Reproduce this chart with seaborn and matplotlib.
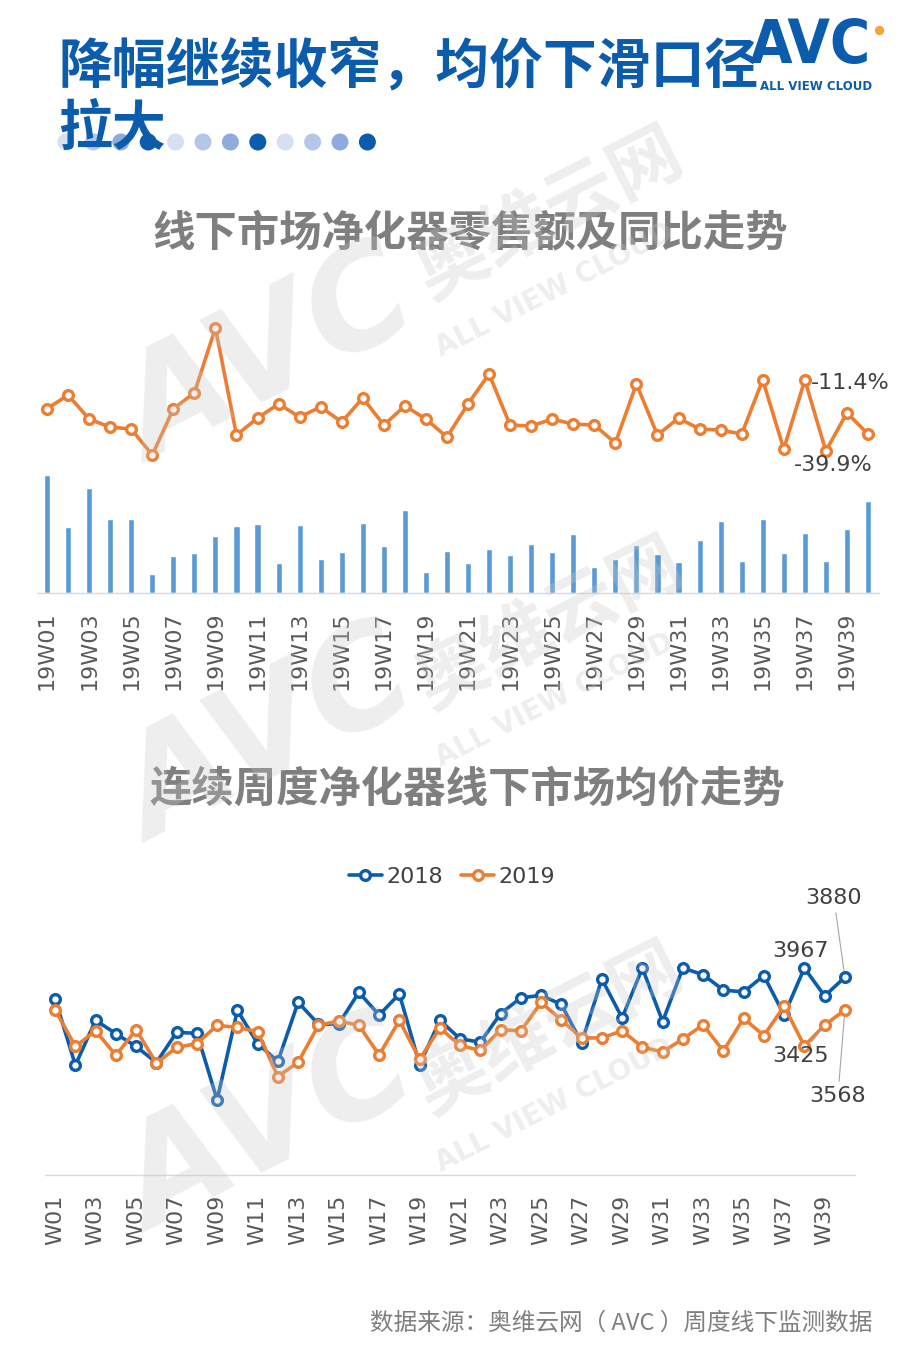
import numpy as np
import pandas as pd
import matplotlib
matplotlib.use("Agg")
import matplotlib.pyplot as plt
import seaborn as sns

# ---- data ----
weeks = ["19W%02d" % i for i in range(1, 41)]
weeks_short = ["W%02d" % i for i in range(1, 41)]

# weekly offline retail sales (relative units, no axis in the source)
sales_bar = [118, 66, 105, 74, 74, 19, 37, 40, 57, 67,
             69, 30, 68, 34, 41, 70, 47, 83, 21, 42,
             30, 44, 38, 49, 41, 59, 26, 34, 48, 39,
             31, 53, 72, 32, 74, 40, 60, 32, 64, 92]

# year-on-year change of sales, %
yoy_pct = [-23.0, -17.4, -27.1, -30.3, -31.1, -41.5, -23.0, -16.6, 9.5, -33.5,
           -26.7, -21.0, -26.3, -22.2, -28.3, -18.6, -29.5, -21.8, -27.1, -34.3,
           -21.0, -9.0, -29.5, -29.9, -27.1, -29.1, -29.5, -36.7, -13.0, -33.5,
           -26.7, -31.1, -31.5, -33.1, -11.4, -39.1, -11.4, -39.9, -24.6, -33.1]

# average price, yuan
price_2018 = [3674, 3044, 3471, 3343, 3222, 3069, 3356, 3347, 2714, 3565,
              3250, 3079, 3642, 3434, 3434, 3736, 3521, 3721, 3048, 3471,
              3294, 3263, 3534, 3684, 3708, 3621, 3256, 3861, 3493, 3967,
              3459, 3967, 3904, 3758, 3740, 3895, 3521, 3967, 3702, 3880]
price_2019 = [3571, 3222, 3371, 3138, 3381, 3063, 3212, 3250, 3422, 3403,
              3362, 2936, 3072, 3422, 3465, 3422, 3141, 3469, 3100, 3397,
              3231, 3184, 3381, 3371, 3640, 3474, 3303, 3303, 3371, 3216,
              3169, 3294, 3427, 3179, 3490, 3325, 3605, 3226, 3425, 3568]

yoy_labels = {36: "-11.4%", 37: "-39.9%"}

BLUE = "#0B5CAD"
ORANGE = "#ED7D31"
BAR = "#5B9BD5"
GREY_T = "#7F7F7F"
TXT = "#404040"

sns.set_theme(style="white")
plt.rcParams["font.family"] = ["Noto Sans CJK SC", "DejaVu Sans"]

W, H = 907, 1361
fig = plt.figure(figsize=(W / 100, H / 100), dpi=100)
fig.patch.set_facecolor("white")


def box(x0, y0, x1, y1):
    return [x0 / W, 1 - y1 / H, (x1 - x0) / W, (y1 - y0) / H]


def clean(ax, axis_line=True):
    for s in ["top", "right", "left"]:
        ax.spines[s].set_visible(False)
    ax.spines["bottom"].set_visible(axis_line)
    ax.spines["bottom"].set_color("#D9D9D9")
    ax.spines["bottom"].set_linewidth(1.0)
    ax.set_yticks([])
    ax.set_ylabel("")
    ax.set_xlabel("")
    ax.patch.set_alpha(0)


# ---- background layer: decorative dots ----
bg = fig.add_axes([0, 0, 1, 1])
bg.set_xlim(0, W)
bg.set_ylim(H, 0)
bg.axis("off")
dot_cols = ["#D6E0F2", "#B4C7E7", "#8FAADC", BLUE] * 3
bg.scatter(66 + 27.4 * np.arange(12), np.full(12, 142), s=150, c=dot_cols, linewidths=0)

# ---- header ----
fig.text(58 / W, 1 - 68 / H, "降幅继续收窄，均价下滑口径", fontsize=38.8, weight="bold",
         color=BLUE, va="center", ha="left")
fig.text(58 / W, 1 - 130 / H, "拉大", fontsize=38.8, weight="bold",
         color=BLUE, va="center", ha="left")
fig.text(810 / W, 1 - 47 / H, "AVC", fontsize=44, weight="bold", color=BLUE,
         family="DejaVu Sans", fontstretch="condensed", va="center", ha="center")
bg.scatter([879], [30], s=45, c="#F5A23A", linewidths=0)
fig.text(816 / W, 1 - 86 / H, "ALL VIEW CLOUD", fontsize=8.5, weight="bold",
         color=BLUE, family="DejaVu Sans", va="center", ha="center")

fig.text(470 / W, 1 - 233 / H, "线下市场净化器零售额及同比走势", fontsize=30.5,
         weight="bold", color=GREY_T, ha="center", va="center")
fig.text(467 / W, 1 - 790 / H, "连续周度净化器线下市场均价走势", fontsize=30.5,
         weight="bold", color=GREY_T, ha="center", va="center")
fig.text(872 / W, 1 - 1323 / H, "数据来源：奥维云网（ AVC ）周度线下监测数据",
         fontsize=17, color=GREY_T, ha="right", va="center")

# ---- chart 1: sales bars + yoy line ----
ax1 = fig.add_axes(box(36.5, 300, 878.5, 593))
sns.barplot(x=weeks, y=sales_bar, color=BAR, saturation=1, width=0.29, ax=ax1)
ax1.set_ylim(0, 293)
ax1.set_xlim(-0.5, 39.5)
clean(ax1)
ax1.set_xticks(range(0, 40, 2))
ax1.set_xticklabels(weeks[::2])
ax1.tick_params(axis="x", length=0, pad=13, labelsize=16, labelcolor="#595959",
                rotation=90)
for t in ax1.get_xticklabels():
    t.set_fontfamily("DejaVu Sans")

ax1b = fig.add_axes(box(36.5, 300, 878.5, 593))
sns.lineplot(x=np.arange(40), y=yoy_pct, ax=ax1b, color=ORANGE, lw=2.6,
             marker="o", ms=7, mfc="white", mec=ORANGE, mew=2.4)
ax1b.set_xlim(-0.5, 39.5)
ax1b.set_ylim(-96.9, 20.7)
clean(ax1b, axis_line=False)
ax1b.set_xticks([])
ax1b.annotate(yoy_labels[36], (36, yoy_pct[36]), xytext=(6, -3),
              textcoords="offset pixels", ha="left", va="center", fontsize=16,
              color=TXT, family="DejaVu Sans")
ax1b.annotate(yoy_labels[37], (37, yoy_pct[37]), xytext=(7, -14),
              textcoords="offset pixels", ha="center", va="center", fontsize=16,
              color=TXT, family="DejaVu Sans")

# ---- chart 2: weekly average price ----
ax2 = fig.add_axes(box(45, 912, 855, 1175))
idx = np.arange(40)
sns.lineplot(x=idx, y=price_2018, ax=ax2, color=BLUE, lw=2.6, label="2018",
             marker="o", ms=7, mfc="white", mec=BLUE, mew=2.4)
sns.lineplot(x=idx, y=price_2019, ax=ax2, color=ORANGE, lw=2.6, label="2019",
             marker="o", ms=7, mfc="white", mec=ORANGE, mew=2.4)
ax2.set_xlim(-0.5, 39.5)
ax2.set_ylim(2000, 4500)
clean(ax2)
ax2.set_xticks(range(0, 40, 2))
ax2.set_xticklabels(weeks_short[::2])
ax2.tick_params(axis="x", length=0, pad=14, labelsize=16, labelcolor="#595959",
                rotation=90)
for t in ax2.get_xticklabels():
    t.set_fontfamily("DejaVu Sans")

leg = ax2.legend(loc="center", bbox_to_anchor=(452 / W, 1 - 877 / H),
                 bbox_transform=fig.transFigure, ncol=2, frameon=False,
                 fontsize=16, handlelength=1.5, handletextpad=0.2,
                 columnspacing=0.8)
for t in leg.get_texts():
    t.set_color(TXT)
    t.set_fontfamily("DejaVu Sans")

lead = dict(arrowstyle="-", color="#A6A6A6", lw=0.8, shrinkA=1, shrinkB=5)
ax2.annotate(str(price_2018[39]), (39, price_2018[39]), xytext=(-11, 79),
             textcoords="offset pixels", ha="center", va="center", fontsize=16,
             color=TXT, family="DejaVu Sans", arrowprops=lead)
ax2.annotate(str(price_2018[37]), (37, price_2018[37]), xytext=(-4, 17),
             textcoords="offset pixels", ha="center", va="center", fontsize=16,
             color=TXT, family="DejaVu Sans")
ax2.annotate(str(price_2019[38]), (38, price_2019[38]), xytext=(-24, -31),
             textcoords="offset pixels", ha="center", va="center", fontsize=16,
             color=TXT, family="DejaVu Sans", arrowprops=lead)
ax2.annotate(str(price_2019[39]), (39, price_2019[39]), xytext=(-7, -86),
             textcoords="offset pixels", ha="center", va="center", fontsize=16,
             color=TXT, family="DejaVu Sans", arrowprops=lead)

# ---- watermark overlay ----
wm = fig.add_axes([0, 0, 1, 1], zorder=10)
wm.set_xlim(0, W)
wm.set_ylim(H, 0)
wm.axis("off")
for avc_y, cn_y in [(360, 215), (740, 625), (1130, 1030)]:
    wm.text(270, avc_y, "AVC", fontsize=100, weight="bold", style="italic",
            family="DejaVu Sans", color="#C8C8C8", alpha=0.3, rotation=27,
            ha="center", va="center")
    wm.text(550, cn_y, "奥维云网", fontsize=52, weight="bold", color="#C8C8C8",
            alpha=0.3, rotation=27, ha="center", va="center")
    wm.text(555, cn_y + 75, "ALL VIEW CLOUD", fontsize=20, weight="bold",
            family="DejaVu Sans", color="#C8C8C8", alpha=0.3, rotation=27,
            ha="center", va="center")

fig.savefig("out.png", dpi=100, facecolor="white")
